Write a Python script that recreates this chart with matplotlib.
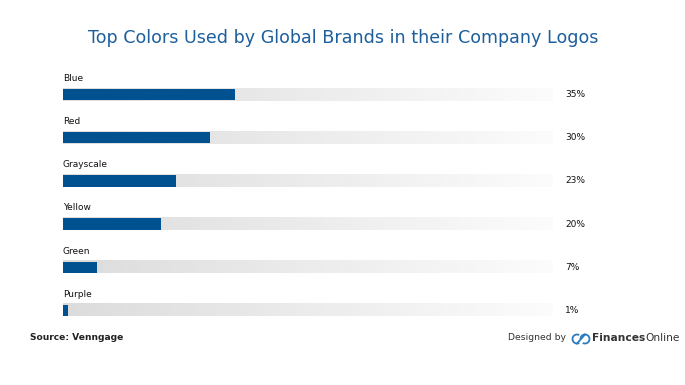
import numpy as np
import matplotlib.pyplot as plt
from matplotlib.patches import Arc

colors = ["Blue", "Red", "Grayscale", "Yellow", "Green", "Purple"]
shares = [35, 30, 23, 20, 7, 1]
pct_labels = ["35%", "30%", "23%", "20%", "7%", "1%"]

bar_blue = "#00518f"
title_blue = "#1d5f9c"

fig = plt.figure(figsize=(6.85, 3.85), dpi=100)
fig.patch.set_facecolor("white")

W, H = 685, 385
ax = fig.add_axes([63 / W, 1 - 332 / H, 490 / W, 259 / H])
ax.set_xlim(0, 100)
ax.set_ylim(len(colors) - 0.5, -0.5)
ax.axis("off")

grad = np.linspace(0.86, 0.985, 256).reshape(1, -1)
for i, (name, val, lab) in enumerate(zip(colors, shares, pct_labels)):
    # background track with a light gradient
    ax.imshow(grad, cmap="gray", vmin=0, vmax=1, aspect="auto",
              extent=(0, 100, i + 0.14, i - 0.14), zorder=1, interpolation="bicubic")
    ax.barh(i, val, height=0.26, color=bar_blue, zorder=2)
    ax.text(0, i - 0.27, name, fontsize=6.5, color="#111111", va="bottom", ha="left")
    ax.text(102.5, i, lab, fontsize=6.5, color="#111111", va="center", ha="left")

fig.text(343 / W, 1 - 38 / H, "Top Colors Used by Global Brands in their Company Logos",
         ha="center", va="center", fontsize=12.6, color=title_blue)

fig.text(30 / W, 1 - 338 / H, "Source: Venngage", ha="left", va="center",
         fontsize=6.6, fontweight="bold", color="#222222")

fig.text(508 / W, 1 - 338 / H, "Designed by", ha="left", va="center",
         fontsize=6.7, color="#333333")
fin = fig.text(592 / W, 1 - 338 / H, "Finances", ha="left", va="center",
               fontsize=7.7, fontweight="bold", color="#333333")
fig.canvas.draw()
bb = fin.get_window_extent().transformed(fig.transFigure.inverted())
fig.text(bb.x1, 1 - 338 / H, "Online", ha="left", va="center",
         fontsize=7.7, color="#333333")

# small cloud logo
lax = fig.add_axes([570 / W, 1 - 346 / H, 22 / W, 16 / H])
lax.set_xlim(0, 22)
lax.set_ylim(0, 16)
lax.axis("off")
lax.add_patch(Arc((7, 7), 9, 9, theta1=60, theta2=300, color="#2b7bbf", lw=1.3))
lax.add_patch(Arc((15, 7), 9, 9, theta1=-120, theta2=180, color="#2b7bbf", lw=1.3))
lax.plot([7, 15], [2.5, 11.5], color="#2b7bbf", lw=1.3)

fig.savefig("out.png", dpi=100)
